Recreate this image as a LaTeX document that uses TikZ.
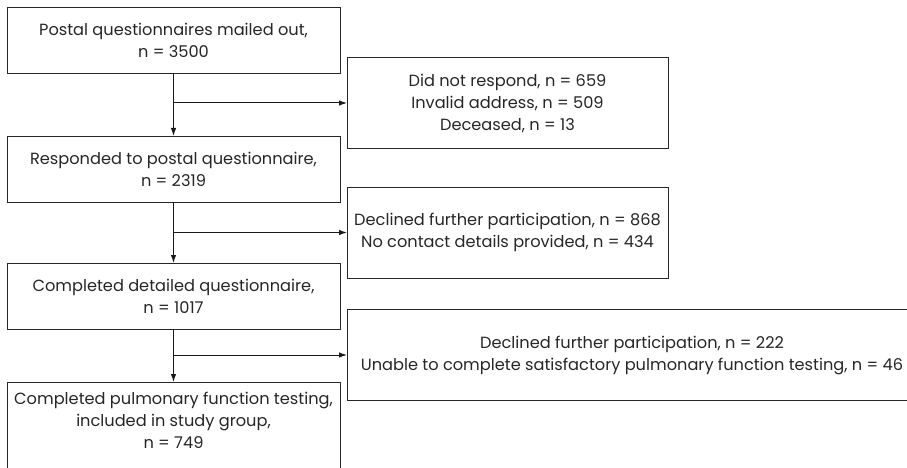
\documentclass[tikz,border=0pt]{standalone}
\usepackage{fontspec}
\setmainfont{Poppins}
\usetikzlibrary{arrows.meta}

\begin{document}
\begin{tikzpicture}[
x=1pt, y=-1pt,
font=\fontsize{16.2}{22}\selectfont,
box/.style={
    draw=black!85, line width=0.8pt, rectangle, align=center,
    inner sep=0pt, outer sep=0pt, text=black!85
},
stagebox/.style={box, minimum width=333pt, minimum height=66pt},
outbox/.style={box, minimum width=321pt, minimum height=91pt},
flow/.style={draw=black!90, line width=1pt, -{Latex[length=8pt,width=5.5pt]}},
]
\useasboundingbox (0,0) rectangle (907,468);

% main column
\node[stagebox] (mailed) at (173.5,40.5) {Postal questionnaires mailed out,\\ n = 3500};
\node[stagebox] (responded) at (173.5,169) {Responded to postal questionnaire,\\ n = 2319};
\node[stagebox] (detailed) at (173.5,296) {Completed detailed questionnaire,\\ n = 1017};
\node[stagebox, anchor=north, minimum height=0pt, inner ysep=10pt, text depth=44pt] (included) at (173.5,382)
  {Completed pulmonary function testing,\\ included in study group,\\ n = 749};

% exclusions
\node[outbox] (lost1) at (507.5,103) {Did not respond, n = 659\\ Invalid address, n = 509\\ Deceased, n = 13};
\node[outbox] (lost2) at (507.5,232.5) {Declined further participation, n = 868\\ No contact details provided, n = 434};
\node[outbox, minimum width=570pt, anchor=west] (lost3) at (347,355)
  {Declined further participation, n = 222\\ Unable to complete satisfactory pulmonary function testing, n = 46};

% branch points
\coordinate (b1) at (mailed.south |- lost1.west);
\coordinate (b2) at (responded.south |- lost2.west);
\coordinate (b3) at (detailed.south |- lost3.west);

\draw[flow] (mailed.south) -- (responded.north);
\draw[flow] (b1) -- (lost1.west);
\draw[flow] (responded.south) -- (detailed.north);
\draw[flow] (b2) -- (lost2.west);
\draw[flow] (detailed.south) -- (included.north);
\draw[flow] (b3) -- (lost3.west);

\end{tikzpicture}
\end{document}
